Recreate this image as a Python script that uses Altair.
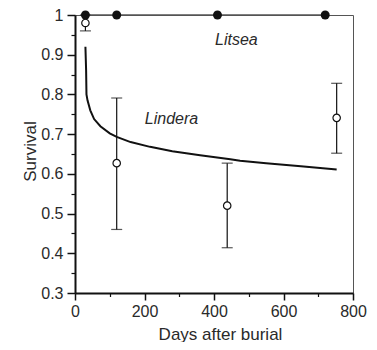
import altair as alt
import pandas as pd

# Litsea (filled circles, survival = 1)
litsea_days = [30, 120, 410, 720]
litsea_surv = [1.0, 1.0, 1.0, 1.0]

# Lindera observations (open circles with error bars)
lindera_days = [30, 120, 438, 753]
lindera_surv = [0.98, 0.627, 0.52, 0.741]
lindera_low = [0.96, 0.46, 0.414, 0.652]
lindera_high = [1.0, 0.791, 0.627, 0.828]

# Lindera fitted curve
curve_days = [30, 31, 32, 33, 36, 44, 55, 73, 100, 120, 160, 216, 280, 360, 447, 475, 550, 650, 753]
curve_surv = [0.92, 0.89, 0.86, 0.80, 0.785, 0.76, 0.738, 0.72, 0.702, 0.693, 0.68, 0.668,
              0.657, 0.647, 0.637, 0.633, 0.627, 0.619, 0.611]

# Labels
label_text = ["Litsea", "Lindera"]
label_days = [403, 201]
label_surv = [0.924, 0.725]

y_major = [0.3, 0.4, 0.5, 0.6, 0.7, 0.8, 0.9, 1.0]
y_minor = [0.35, 0.45, 0.55, 0.65, 0.75, 0.85, 0.95]
x_major = [0, 200, 400, 600, 800]
x_minor = [100, 300, 500, 700]

FONT = "Liberation Sans"
TXT = "#2a2a2a"

lit = pd.DataFrame({"d": litsea_days, "s": litsea_surv})
lin = pd.DataFrame({"d": lindera_days, "s": lindera_surv, "lo": lindera_low, "hi": lindera_high})
cur = pd.DataFrame({"d": curve_days, "s": curve_surv})
lab = pd.DataFrame({"t": label_text, "d": label_days, "s": label_surv})

xs = alt.Scale(domain=[0, 800], nice=False)
ys = alt.Scale(domain=[0.3, 1.0], nice=False)

x_axis = alt.Axis(values=x_major, title="Days after burial", tickSize=7, tickWidth=1.5,
                  domainWidth=2, domainColor="#111", tickColor="#111", labelPadding=3,
                  labelFlush=False, labelOverlap=False,
                  labelFontSize=16, labelFont=FONT, labelColor=TXT, titleFont=FONT,
                  titleFontSize=17, titleFontWeight="normal", titleColor=TXT,
                  titleX=145, titleY=33, titleBaseline="top",
                  grid=False, orient="bottom")
y_axis = alt.Axis(values=y_major, title="Survival", tickSize=8, tickWidth=1.5,
                  domainWidth=2, domainColor="#111", tickColor="#111", labelPadding=4,
                  labelFlush=False, labelOverlap=False,
                  labelExpr="datum.value >= 0.999 ? '1' : format(datum.value, '.1f')",
                  labelFontSize=16, labelFont=FONT, labelColor=TXT, titleFont=FONT,
                  titleFontSize=17, titleFontWeight="normal", titleColor=TXT,
                  titleX=-40, titleY=136, titleBaseline="alphabetic", titleAngle=270,
                  grid=False, orient="left")
x_axis_minor = alt.Axis(values=x_minor, title=None, labels=False, tickSize=3.5, tickWidth=1.2,
                        domain=False, tickColor="#111", grid=False, orient="bottom")
y_axis_minor = alt.Axis(values=y_minor, title=None, labels=False, tickSize=4, tickWidth=1.2,
                        domain=False, tickColor="#111", grid=False, orient="left")

base_lit = alt.Chart(lit)
lit_line = base_lit.mark_line(color="#555", strokeWidth=1.5).encode(
    x=alt.X("d:Q", scale=xs, axis=x_axis), y=alt.Y("s:Q", scale=ys, axis=y_axis))
lit_pts = base_lit.mark_point(filled=True, color="#111", size=80, opacity=1).encode(
    x=alt.X("d:Q", scale=xs, axis=x_axis_minor), y=alt.Y("s:Q", scale=ys, axis=y_axis_minor))

base_lin = alt.Chart(lin)
err = base_lin.mark_rule(color="#111", strokeWidth=1.2).encode(
    x=alt.X("d:Q", scale=xs, axis=None), y=alt.Y("lo:Q", scale=ys, axis=None), y2="hi:Q")
cap_lo = base_lin.mark_tick(color="#111", orient="horizontal", size=11, thickness=1.2).encode(
    x=alt.X("d:Q", scale=xs, axis=None), y=alt.Y("lo:Q", scale=ys, axis=None))
cap_hi = base_lin.mark_tick(color="#111", orient="horizontal", size=11, thickness=1.2).encode(
    x=alt.X("d:Q", scale=xs, axis=None), y=alt.Y("hi:Q", scale=ys, axis=None))
lin_pts = base_lin.mark_point(filled=True, fill="white", stroke="#111", strokeWidth=1.2,
                              size=55, opacity=1).encode(
    x=alt.X("d:Q", scale=xs, axis=None), y=alt.Y("s:Q", scale=ys, axis=None))

curve = alt.Chart(cur).mark_line(color="#111", strokeWidth=2).encode(
    x=alt.X("d:Q", scale=xs, axis=None), y=alt.Y("s:Q", scale=ys, axis=None))

labels = alt.Chart(lab).mark_text(align="left", baseline="alphabetic", fontStyle="italic",
                                  font=FONT, fontSize=16, color=TXT).encode(
    x=alt.X("d:Q", scale=xs, axis=None), y=alt.Y("s:Q", scale=ys, axis=None), text="t:N")

chart = alt.layer(curve, err, cap_lo, cap_hi, lin_pts, lit_line, lit_pts, labels).resolve_axis(
    x="independent", y="independent"
).properties(
    width=278, height=278,
    autosize="none",
    padding={"left": 67, "top": 7, "right": 16, "bottom": 49},
).configure_view(stroke="#555", strokeWidth=1)

chart.save("out.html", embed_options={"renderer": "svg", "actions": False})
